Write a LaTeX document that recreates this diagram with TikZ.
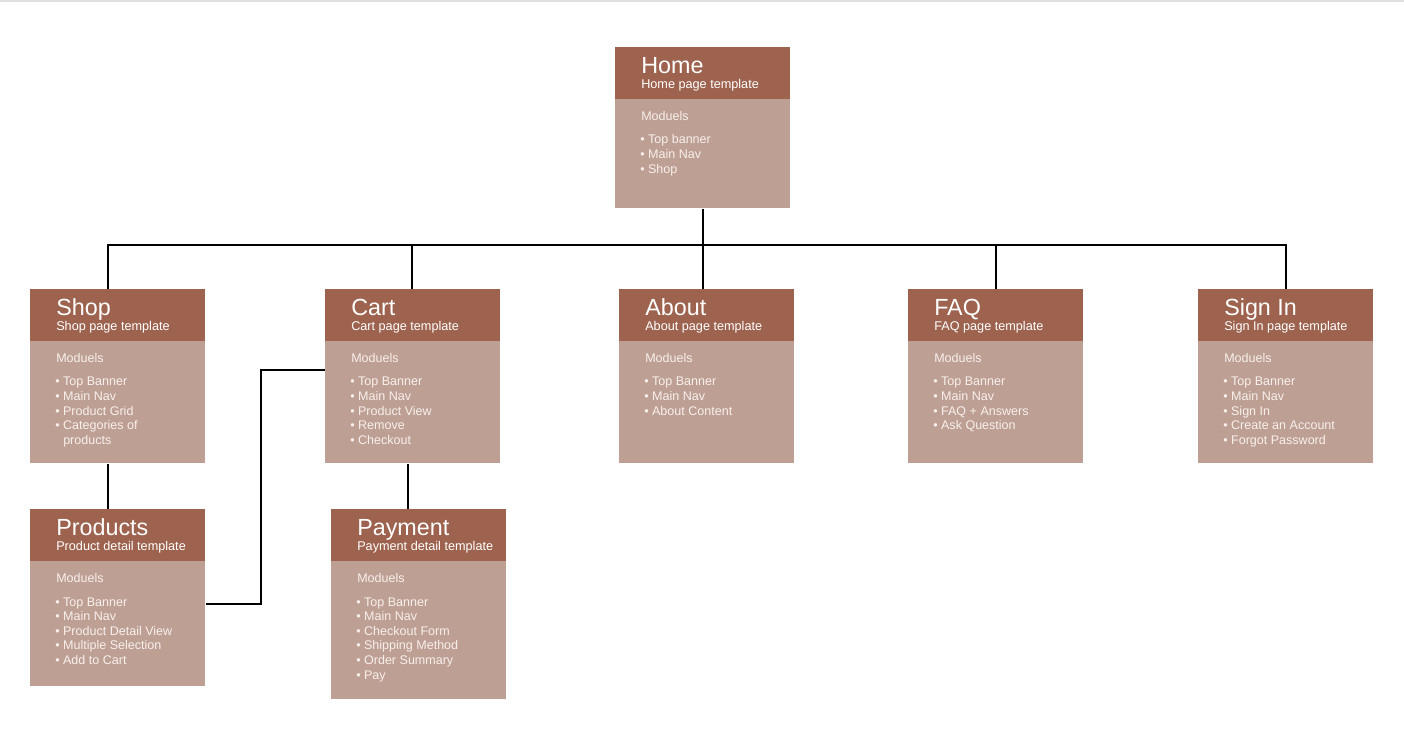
\documentclass[tikz,border=0pt]{standalone}
\usepackage{fontspec}
\setmainfont{Liberation Sans}
\usetikzlibrary{calc,positioning}
\definecolor{headcol}{HTML}{9D634F}
\definecolor{bodycol}{HTML}{BE9F94}
\definecolor{itemcol}{HTML}{F7F0ED}
\tikzstyle{pagebody}=[anchor=north west,inner sep=0,minimum width=131.25pt,fill=bodycol]
\tikzstyle{pagehead}=[anchor=north west,inner sep=0,minimum width=131.25pt,minimum height=39pt,fill=headcol]
\tikzstyle{pagetitle}=[anchor=base west,inner sep=0,white,font=\fontsize{17.5}{20}\selectfont]
\tikzstyle{pagesub}=[anchor=base west,inner sep=0,white,font=\fontsize{9.5}{11}\selectfont]
\tikzstyle{pageitem}=[anchor=base west,inner sep=0,itemcol,font=\fontsize{9.4}{11}\selectfont]
\tikzstyle{link}=[line width=1.5pt,black]
% one page box: name, x, y, height, title, subtitle, modules
\newcommand{\pagebox}[7]{%
  \node[pagebody,minimum height=#4*0.75pt] (#1) at (#2,#3) {};
  \node[pagehead] (#1-head) at (#1.north west) {};
  \node[pagetitle] (#1-title) at ($(#1.north west)+(26,27)$) {#5};
  \node[pagesub] (#1-sub) at ($(#1.north west)+(26,41.5)$) {#6};
  \node[pageitem] (#1-mod) at ($(#1.north west)+(26,74)$) {Moduels};
  \foreach \itm [count=\i] in {#7}
    \node[pageitem] (#1-item\i) at ($(#1.north west)+(25,82.4+14.6*\i)$) {\textbullet\ \itm};
}

\begin{document}
\begin{tikzpicture}[x=0.75pt,y=-0.75pt]
  \useasboundingbox (0,0) rectangle (1404,755);
  \draw[black!12,line width=1.5pt] (0,1)--(1404,1);

  \pagebox{home}{615}{47}{161}{Home}{Home page template}{Top banner,Main Nav,Shop}
  \pagebox{shop}{30}{289}{174}{Shop}{Shop page template}{Top Banner,Main Nav,Product Grid,Categories of}
  \node[pageitem] (shop-more) at ($(shop.north west)+(33,82.4+14.6*5)$) {products};
  \pagebox{cart}{325}{289}{174}{Cart}{Cart page template}{Top Banner,Main Nav,Product View,Remove,Checkout}
  \pagebox{about}{619}{289}{174}{About}{About page template}{Top Banner,Main Nav,About Content}
  \pagebox{faq}{908}{289}{174}{FAQ}{FAQ page template}{Top Banner,Main Nav,FAQ + Answers,Ask Question}
  \pagebox{signin}{1198}{289}{174}{Sign In}{Sign In page template}{Top Banner,Main Nav,Sign In,Create an Account,Forgot Password}
  \pagebox{products}{30}{509}{177}{Products}{Product detail template}{Top Banner,Main Nav,Product Detail View,Multiple Selection,Add to Cart}
  \pagebox{payment}{331}{509}{190}{Payment}{Payment detail template}{Top Banner,Main Nav,Checkout Form,Shipping Method,Order Summary,Pay}

  % links
  \coordinate (bus) at ($(home.south)+(0,36)$);
  \draw[link] (home.south)--(bus);
  \draw[link] (bus) -| ($(shop.north)+(-9.5,0)$);
  \draw[link] (bus) -| ($(cart.north)+(-1,0)$);
  \draw[link] (bus)--(bus |- about.north);
  \draw[link] (bus) -| (faq.north);
  \draw[link] (bus) -| (signin.north);
  \draw[link] ($(shop.south)+(-9.5,0)$)--($(products.north)+(-9.5,0)$);
  \draw[link] ($(cart.south)+(-5,0)$)--($(payment.north)+(-11,0)$);
  \draw[link] ($(products.north east)+(0,95)$) -- ++(55,0) |- ($(cart.north west)+(0,81)$);
\end{tikzpicture}
\end{document}
